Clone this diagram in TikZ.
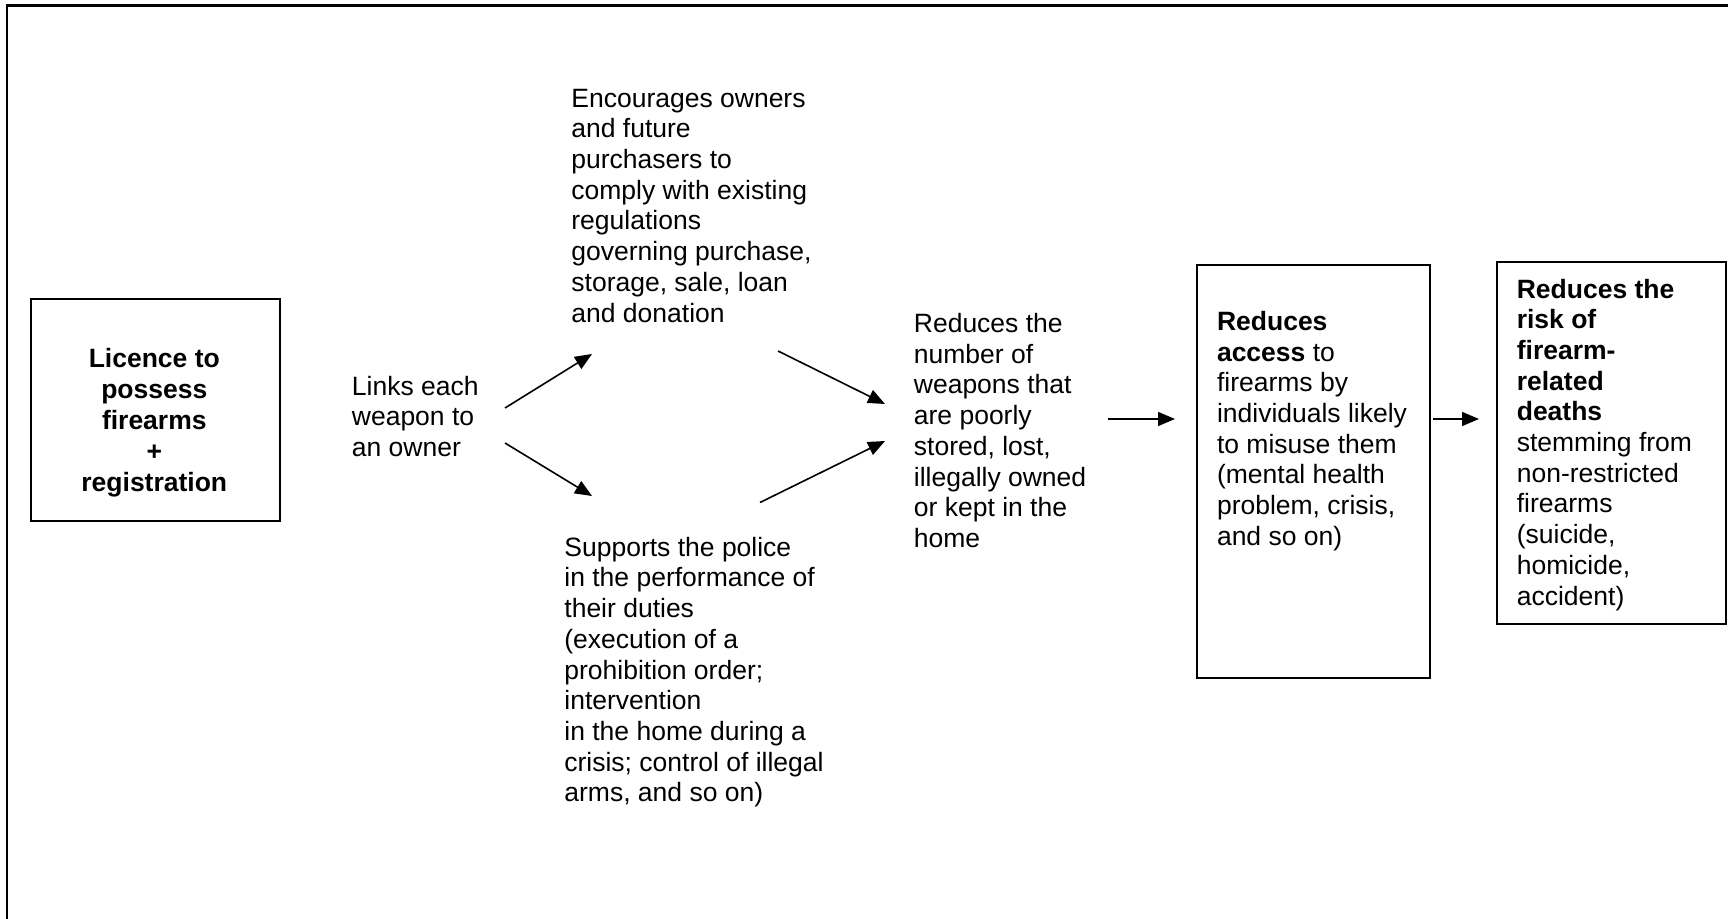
\documentclass[tikz,border=0pt]{standalone}
\usepackage{fontspec}
\setmainfont{Liberation Sans}
\usetikzlibrary{arrows.meta}
\tikzset{
  frameline/.style={line width=1.1pt},
  boxnode/.style={draw, line width=1pt, inner sep=0pt, anchor=north west},
  txt/.style={inner sep=0pt, align=left, anchor=west, font=\fontsize{13.25pt}{15.35pt}\selectfont},
  ctxt/.style={inner sep=0pt, align=center, anchor=center, font=\fontsize{13.25pt}{15.5pt}\selectfont\bfseries},
  arr/.style={line width=0.8pt, -{Triangle[length=8.5pt,width=7pt]}}
}
\begin{document}
\begin{tikzpicture}[x=0.5pt,y=-0.5pt]
\useasboundingbox (0,0) rectangle (1728,919);
% outer frame (only top and left edges visible)
\coordinate (fbl) at (7,919);
\coordinate (ftl) at (7,5.5);
\coordinate (ftr) at (1728,5.5);
\draw[frameline] (fbl) -- (ftl) -- (ftr);

% boxes
\node[boxnode, minimum width=124.5pt, minimum height=111.25pt] (b1) at (29.8,297.6) {};
\node[boxnode, minimum width=116.8pt, minimum height=206pt] (b3) at (1195.7,264.5) {};
\node[boxnode, minimum width=114.5pt, minimum height=181pt] (b4) at (1496,261) {};

% texts
\node[ctxt] (t1) at (154.3,422.5) {Licence to\\possess\\firearms\\+\\registration};
\node[txt] (t2) at (351.5,416.5) {Links each\\weapon to\\an owner};
\node[txt] (t3) at (571,205.6) {Encourages owners\\and future\\purchasers to\\comply with existing\\regulations\\governing purchase,\\storage, sale, loan\\and donation};
\node[txt] (t4) at (564,672.2) {Supports the police\\in the performance of\\their duties\\(execution of a\\prohibition order;\\intervention\\in the home during a\\crisis; control of illegal\\arms, and so on)};
\node[txt] (t5) at (913.5,430.5) {Reduces the\\number of\\weapons that\\are poorly\\stored, lost,\\illegally owned\\or kept in the\\home};
\node[txt] (t6) at (1216.6,431) {\textbf{Reduces}\\\textbf{access} to\\firearms by\\individuals likely\\to misuse them\\(mental health\\problem, crisis,\\and so on)};
\node[txt] (t7) at (1516.4,444.7) {\textbf{Reduces the}\\\textbf{risk of}\\\textbf{firearm-}\\\textbf{related}\\\textbf{deaths}\\stemming from\\non-restricted\\firearms\\(suicide,\\homicide,\\accident)};

% arrow end points
\coordinate (a1s) at (505,408);  \coordinate (a1e) at (592,354);
\coordinate (a2s) at (505,443);  \coordinate (a2e) at (592,496);
\coordinate (a3s) at (778,351);  \coordinate (a3e) at (885,404);
\coordinate (a4s) at (760,502.5);\coordinate (a4e) at (885,441);
\coordinate (a5s) at (1108,419); \coordinate (a5e) at (1175,419);
\coordinate (a6s) at (1433,419); \coordinate (a6e) at (1479,419);

\draw[arr] (a1s) -- (a1e);
\draw[arr] (a2s) -- (a2e);
\draw[arr] (a3s) -- (a3e);
\draw[arr] (a4s) -- (a4e);
\draw[arr] (a5s) -- (a5e);
\draw[arr] (a6s) -- (a6e);
\end{tikzpicture}
\end{document}
